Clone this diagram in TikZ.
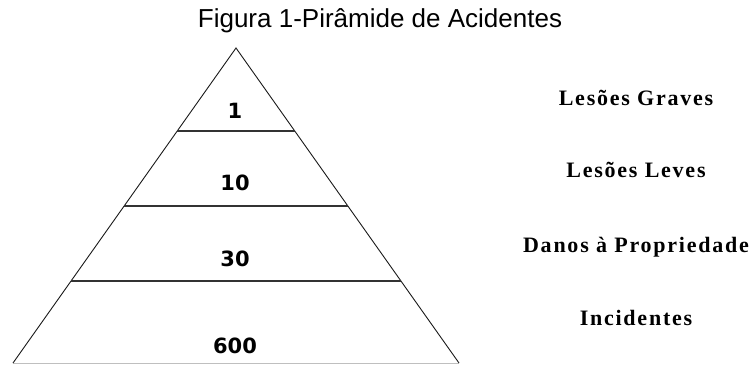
\documentclass[tikz,border=0pt]{standalone}
\usepackage{fontspec}
\setmainfont{Liberation Sans}
\newfontfamily\classfont[LetterSpace=8]{Liberation Serif}
\newfontfamily\countfont{DejaVu Sans}
\usetikzlibrary{calc}

\begin{document}
\begin{tikzpicture}[x=1pt, y=-1pt,
    side/.style={line width=0.9pt, black!90},
    level/.style={line width=1.8pt, black!80},
    count/.style={font=\countfont\bfseries\fontsize{21}{21}\selectfont, anchor=base},
    class/.style={font=\classfont\bfseries\fontsize{22}{22}\selectfont, anchor=base}]
    \useasboundingbox (0,0) rectangle (752,365);
    \node[font=\fontsize{26}{26}\selectfont, anchor=base] (title) at (380,27) {Figura 1-Pirâmide de Acidentes};
    % PYRAMID
    \coordinate (apex) at (236,48);
    \coordinate (bl) at (13,363);
    \coordinate (br) at (459,363);
    \draw[black!25, thin] (bl) -- (br);
    \draw[side] (bl) -- (apex) -- (br);
    \foreach \t in {0.2635, 0.5016, 0.7397} {
        \draw[level] ($(apex)!\t!(bl)$) -- ($(apex)!\t!(br)$);
    }
    % COUNTS AND CLASSES
    \foreach \i/\yc/\num/\yl/\lab in {1/118/1/105/Lesões Graves,
                                     2/190/10/177/Lesões Leves,
                                     3/266/30/252/Danos à Propriedade,
                                     4/353/600/325/Incidentes} {
        \node[count] (count\i) at (235,\yc) {\num};
        \node[class] (class\i) at (636,\yl) {\lab};
    }
\end{tikzpicture}
\end{document}
